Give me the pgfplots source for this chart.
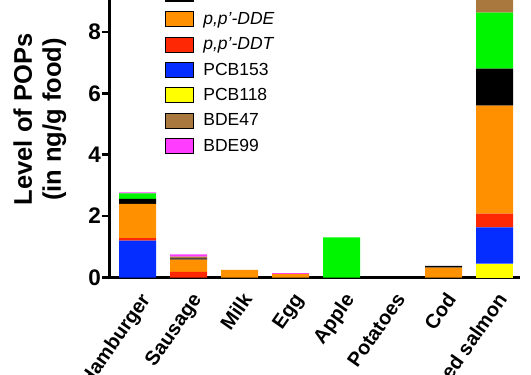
\documentclass[border=0pt]{standalone}
\usepackage{fontspec}
\setmainfont{Liberation Sans}
\usepackage{pgfplots}
\usepackage{pgfplotstable}
\pgfplotsset{compat=1.18}
\definecolor{cYel}{RGB}{255,255,0}
\definecolor{cBlue}{RGB}{5,45,255}
\definecolor{cRed}{RGB}{255,40,5}
\definecolor{cOra}{RGB}{255,145,0}
\definecolor{cGreen}{RGB}{0,245,0}
\definecolor{cBrown}{RGB}{168,120,62}
\definecolor{cMag}{RGB}{255,60,255}
\pgfplotstableread{
x yel  blue red  ora  blk  grn  brn  mag
0 0    1.20 0.08 1.12 0.16 0.18 0    0.03
1 0    0    0.18 0.40 0.04 0    0.06 0.07
2 0    0    0    0.25 0    0    0    0
3 0    0    0    0.12 0    0    0    0.02
4 0    0    0    0    0    1.31 0    0
5 0    0    0    0    0    0    0    0
6 0    0    0    0.32 0.06 0    0    0
7 0.45 1.18 0.45 3.52 1.20 1.83 0.50 0
}\data
\begin{document}
\begin{tikzpicture}
\useasboundingbox (-110pt,-97.5pt) rectangle (421pt,277.5pt);
\begin{scope}
\clip (-110pt,-97.5pt) rectangle (421pt,277.5pt);
\begin{axis}[
 at={(0pt,0pt)}, anchor=south west,
 scale only axis, width=410pt, height=307pt,
 ybar stacked, bar width=37pt,
 xmin=-0.54, xmax=7.5, ymin=0, ymax=10,
 axis x line*=bottom, axis y line*=left,
 axis line style={line width=3pt, -},
 xtick={0,...,7},
 xticklabels={Hamburger,Sausage,Milk,Egg,Apple,Potatoes,Cod,Farmed salmon},
 x tick style={draw=none},
 xticklabel style={font=\fontsize{20}{22}\selectfont\bfseries, xshift=13.5pt, yshift=-14pt, rotate=55, anchor=base east, inner sep=0pt},
 ytick={0,2,4,6,8,10},
 y tick style={line width=2.5pt, black},
 major tick length=8pt, tick align=outside,
 yticklabel style={font=\fontsize{22.5}{22.5}\selectfont\bfseries, inner sep=1pt},
 /pgf/number format/assume math mode=true,
 ylabel={Level of POPs\\(in ng/g food)},
 ylabel style={at={(axis description cs:-0.171,0.515)}, anchor=center, align=center, font=\fontsize{25.5}{29}\selectfont\bfseries},
 legend image code/.code={\fill[#1] (0pt,-7.5pt) rectangle (28pt,7.5pt);},
 legend cell align=left,
 legend style={at={(0.134,1.033)}, anchor=north west, draw=none, fill=none, inner sep=0pt, outer sep=0pt, row sep=10pt, column sep=10pt, font=\fontsize{17.5}{17.5}\selectfont, nodes={inner sep=0pt}},
]
\addplot[fill=cYel, draw=none, forget plot] table[x=x,y=yel]{\data};
\addplot[fill=cBlue, draw=none, forget plot] table[x=x,y=blue]{\data};
\addplot[fill=cRed, draw=none, forget plot] table[x=x,y=red]{\data};
\addplot[fill=cOra, draw=none, forget plot] table[x=x,y=ora]{\data};
\addplot[fill=black, draw=none, forget plot] table[x=x,y=blk]{\data};
\addplot[fill=cGreen, draw=none, forget plot] table[x=x,y=grn]{\data};
\addplot[fill=cBrown, draw=none, forget plot] table[x=x,y=brn]{\data};
\addplot[fill=cMag, draw=none, forget plot] table[x=x,y=mag]{\data};
\addlegendimage{fill=cGreen}\addlegendentry{HCB}
\addlegendimage{fill=black}\addlegendentry{Dieldrin}
\addlegendimage{fill=cOra}\addlegendentry{\textit{p,p'-DDE}}
\addlegendimage{fill=cRed}\addlegendentry{\textit{p,p'-DDT}}
\addlegendimage{fill=cBlue}\addlegendentry{PCB153}
\addlegendimage{fill=cYel}\addlegendentry{PCB118}
\addlegendimage{fill=cBrown}\addlegendentry{BDE47}
\addlegendimage{fill=cMag}\addlegendentry{BDE99}
\end{axis}
\end{scope}
\end{tikzpicture}
\end{document}
